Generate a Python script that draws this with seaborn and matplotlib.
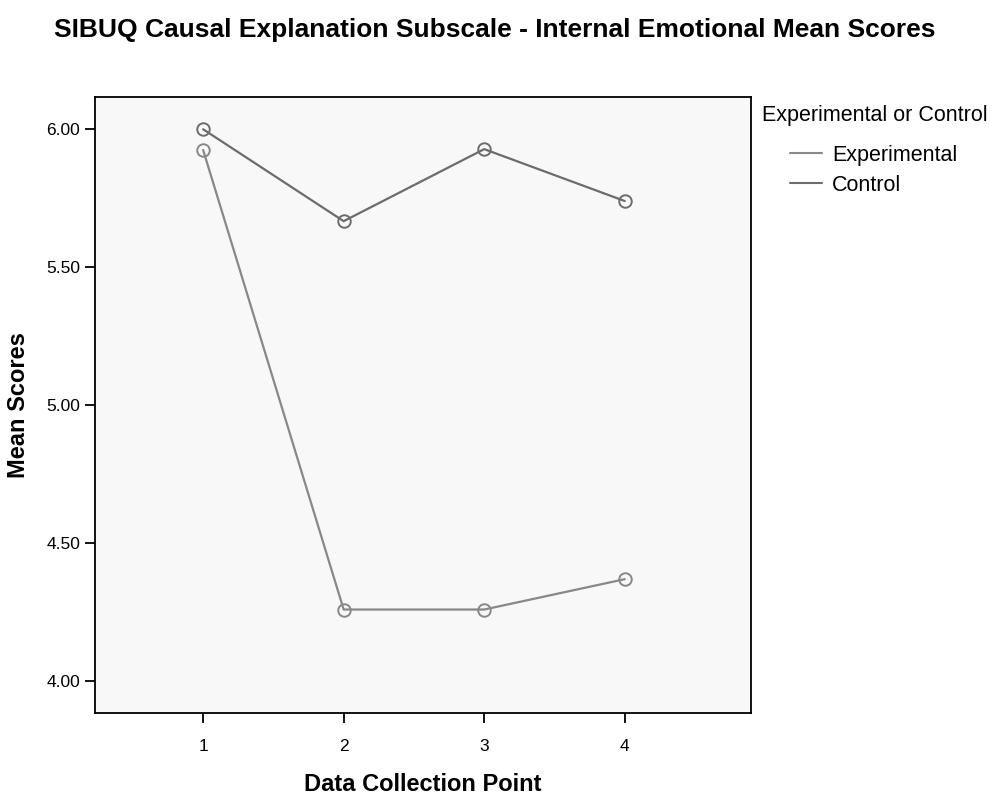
import matplotlib
matplotlib.use("Agg")
import matplotlib.pyplot as plt
from matplotlib.lines import Line2D
import seaborn as sns
import pandas as pd

sns.set_theme(style="white")
plt.rcParams['font.family'] = ['Liberation Sans', 'DejaVu Sans']
plt.rcParams.update({"text.color": "black", "axes.labelcolor": "black",
                     "xtick.color": "black", "ytick.color": "black"})

points = [1, 2, 3, 4]
experimental = [5.925, 4.26, 4.26, 4.37]
control = [6.00, 5.667, 5.928, 5.74]
groups = ["Experimental", "Control"]

df = pd.DataFrame({
    "point": points * 2,
    "score": experimental + control,
    "group": [groups[0]] * 4 + [groups[1]] * 4,
})

fig = plt.figure(figsize=(9.99, 7.97), dpi=100)
ax = fig.add_axes([0.095, 0.105, 0.657, 0.773])
ax.set_facecolor("#f8f8f8")

palette = {"Experimental": "#888888", "Control": "#6c6c6c"}
sns.lineplot(data=df, x="point", y="score", hue="group", hue_order=groups,
             palette=palette, linewidth=1.6, marker="o", markersize=9,
             markerfacecolor="none", markeredgewidth=1.4, ax=ax, legend=False)
for line in ax.lines:
    line.set_markeredgecolor(line.get_color())

ax.set_xlim(0.23, 4.9)
ax.set_ylim(3.884, 6.116)
ax.set_xticks(points)
ax.set_xticklabels([str(p) for p in points])
ax.set_yticks([4.0, 4.5, 5.0, 5.5, 6.0])
ax.set_yticklabels(["4.00", "4.50", "5.00", "5.50", "6.00"])
ax.tick_params(axis="both", direction="out", length=7.5, width=1.3, color="black",
               labelsize=12.5, bottom=True, left=True)
ax.tick_params(axis="x", pad=11)
ax.tick_params(axis="y", pad=3)
for s in ax.spines.values():
    s.set_color("black")
    s.set_linewidth(1.3)

ax.set_xlabel("Data Collection Point", fontsize=17, fontweight="bold", labelpad=14)
ax.set_ylabel("Mean Scores", fontsize=17, fontweight="bold", labelpad=12)
fig.suptitle("SIBUQ Causal Explanation Subscale - Internal Emotional Mean Scores",
             fontsize=19, fontweight="bold", x=0.4955, y=0.978)

# legend title and entries
fig.text(762 / 999, 1 - 116 / 797, "Experimental or Control", fontsize=15.5,
         ha="left", va="center")
handles = [Line2D([], [], color=palette[g], linewidth=1.5) for g in groups]
fig.legend(handles, groups, loc="upper left", bbox_to_anchor=(790 / 999, 1 - 145 / 797),
           frameon=False, fontsize=15.5, borderpad=0, borderaxespad=0,
           handlelength=1.5, handletextpad=0.45, labelspacing=0.4)

fig.savefig("out.png", dpi=100)
